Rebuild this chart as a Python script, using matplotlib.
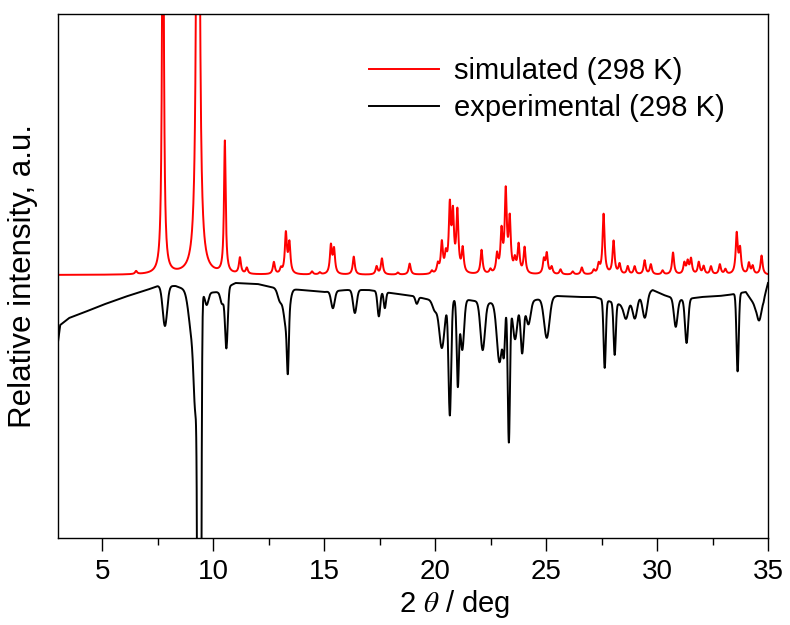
import matplotlib
matplotlib.use('Agg')
import matplotlib.pyplot as plt
import numpy as np

plt.rcParams['font.family'] = ['Liberation Sans', 'DejaVu Sans']
plt.rcParams['mathtext.fontset'] = 'stix'

# simulated pattern: peak position (deg), height, half width (deg)
sim_pos = [6.52, 7.73, 9.31, 10.52, 11.2, 11.51, 12.73, 13.05, 13.27, 13.43,
           14.45, 14.8, 15.3, 15.44, 16.33, 17.36, 17.6, 18.32, 18.85, 19.85,
           20.12, 20.3, 20.48, 20.66, 20.8, 21.0, 21.24, 22.09, 22.49, 22.79,
           22.99, 23.18, 23.36, 23.59, 23.76, 24.03, 24.9, 25.03, 25.25, 25.65,
           26.2, 26.61, 27.15, 27.37, 27.59, 28.04, 28.31, 28.68, 28.99, 29.44,
           29.72, 30.25, 30.72, 31.23, 31.38, 31.53, 31.88, 32.1, 32.43, 32.83,
           33.08, 33.59, 33.74, 34.14, 34.31, 34.71]
sim_hgt = [3, 480, 1100, 132, 16, 6, 12, 5, 40, 30,
           3, 2, 28, 24, 18, 8, 16, 2, 11, 3,
           9, 30, 16, 64, 55, 60, 24, 24, 4, 18,
           40, 80, 52, 12, 28, 26, 14, 20, 7, 5,
           3, 7, 4, 9, 60, 33, 10, 8, 8, 14,
           10, 4, 22, 11, 12, 15, 12, 8, 8, 10,
           5, 40, 24, 11, 8, 19]
sim_wid = [0.055] * len(sim_pos)
sim_wid[1] = 0.045
sim_wid[3] = 0.045
sim_base = 263

# experimental pattern: background anchors and dips (position, depth, sigma)
bg_x = [3.0, 3.1, 3.5, 4.1, 5.0, 6.0, 7.0, 7.5, 8.3, 8.8, 9.7, 10.2, 11.0,
        12.0, 12.8, 14.0, 15.0, 16.0, 17.0, 18.0, 19.0, 19.8, 21.5, 22.4,
        24.5, 25.5, 26.5, 27.2, 28.4, 29.8, 30.3, 31.0, 32.0, 32.8, 33.2,
        34.0, 34.4, 34.8, 35.0]
bg_y = [196, 213, 220, 225, 233, 241, 248, 252, 252, 248, 245, 246, 255,
        254, 250, 248, 246, 248, 248, 245, 242, 238, 238, 235,
        238, 242, 241, 241, 233, 248, 243, 238, 241, 242, 243,
        246, 233, 238, 255]
exp_pos = [7.82, 9.05, 9.2, 9.37, 9.7, 10.4, 10.59, 13.0, 13.3, 13.36, 15.39,
           16.38, 17.46, 17.73, 19.17, 19.98, 20.3, 20.66, 21.02, 21.22, 22.14,
           22.9, 23.1, 23.32, 23.6, 23.92, 24.2, 25.03, 27.64, 28.09, 28.6,
           29.0, 29.45, 30.84, 31.33, 33.63, 34.6]
exp_dep = [40, 45, 90, 1500, 12, 14, 60, 12, 40, 50, 17,
           23, 25, 16, 7, 10, 48, 115, 85, 50, 48,
           60, 40, 140, 38, 52, 24, 40, 68, 52, 16,
           20, 24, 28, 44, 78, 18]
exp_sig = [0.1, 0.15, 0.08, 0.052, 0.08, 0.08, 0.06, 0.1, 0.12, 0.04, 0.08,
           0.08, 0.06, 0.05, 0.06, 0.1, 0.12, 0.06, 0.05, 0.08, 0.1,
           0.12, 0.05, 0.05, 0.1, 0.07, 0.1, 0.12, 0.05, 0.05, 0.1,
           0.1, 0.1, 0.08, 0.07, 0.05, 0.1]


def lorentz_sum(x, pos, hgt, wid):
    y = np.zeros_like(x)
    for p, h, w in zip(pos, hgt, wid):
        y += h * w**2 / ((x - p)**2 + w**2)
    return y


def gauss_sum(x, pos, hgt, sig):
    y = np.zeros_like(x)
    for p, h, s in zip(pos, hgt, sig):
        y += h * np.exp(-(x - p)**2 / (2 * s**2))
    return y


x = np.arange(3.0, 35.001, 0.01)
sim = sim_base + lorentz_sum(x, sim_pos, sim_hgt, sim_wid)
exp = np.interp(x, bg_x, bg_y) - gauss_sum(x, exp_pos, exp_dep, exp_sig)

fig = plt.figure(figsize=(7.9, 6.25), dpi=100)
ax = fig.add_axes([58 / 790, 1 - 538 / 625, 710 / 790, 524 / 625])

ax.plot(x, sim, color='#ff0000', linewidth=1.4, label='simulated (298 K)')
ax.plot(x, exp, color='black', linewidth=1.4, label='experimental (298 K)')

ax.set_xlim(3, 35)
ax.set_ylim(0, 524)
ax.set_xticks([5, 10, 15, 20, 25, 30, 35])
ax.set_xticks([7.5, 12.5, 17.5, 22.5, 27.5, 32.5], minor=True)
ax.set_yticks([])
ax.tick_params(axis='x', which='major', direction='out', length=9, width=1,
               labelsize=20, pad=6)
ax.tick_params(axis='x', which='minor', direction='out', length=5, width=1)
for s in ax.spines.values():
    s.set_linewidth(1.0)

ax.set_xlabel('2 $\\theta$ / deg', fontsize=21)
ax.xaxis.set_label_coords((455 - 58) / 710, -(604 - 538) / 524)
ax.xaxis.label.set_va('center')
ax.set_ylabel('Relative intensity, a.u.', fontsize=22.5)
ax.yaxis.set_label_coords(-(58 - 23) / 710, 0.5)
ax.yaxis.label.set_va('center')

ax.legend(loc='upper left', bbox_to_anchor=(369 / 790, 1 - 57 / 625),
          bbox_transform=fig.transFigure, frameon=False, fontsize=21,
          handlelength=2.4, handletextpad=0.5, labelspacing=0.32, borderpad=0,
          borderaxespad=0)

plt.savefig('out.png', dpi=100)
